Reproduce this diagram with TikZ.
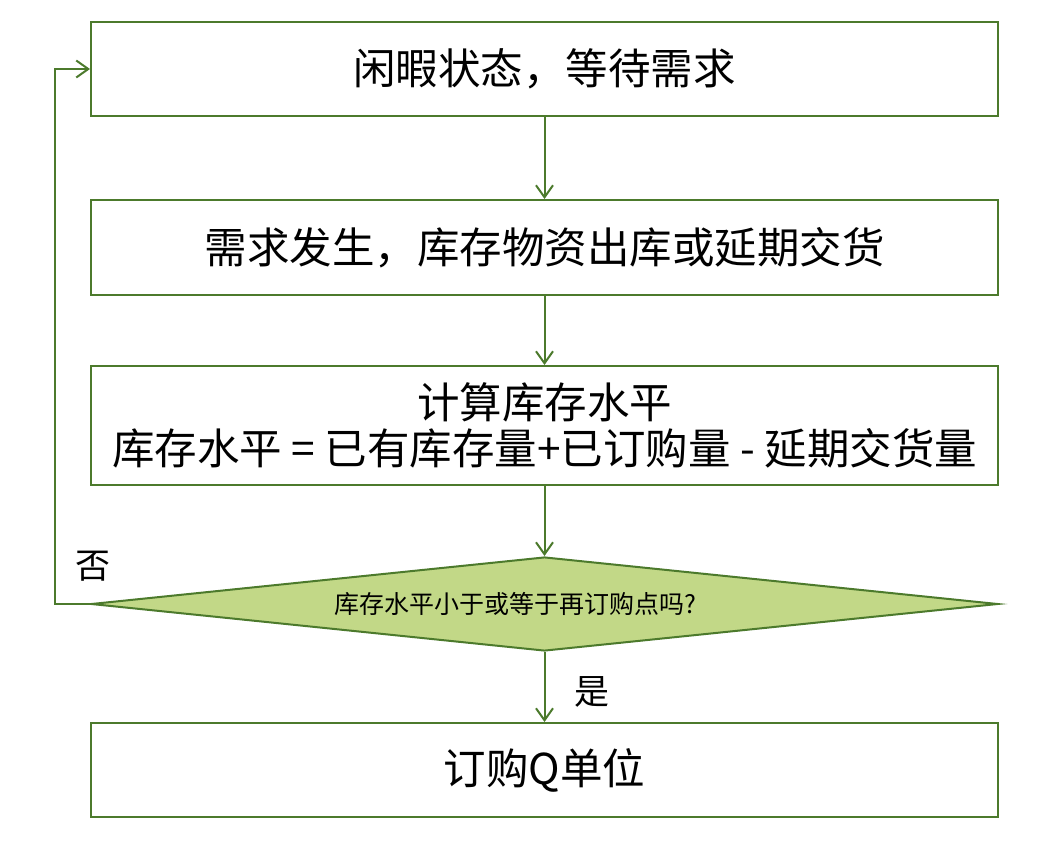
\documentclass[tikz,border=0pt]{standalone}
\usepackage{fontspec}
\setmainfont{Noto Sans CJK SC}
\usetikzlibrary{shapes.geometric,arrows.meta}
\definecolor{bordergreen}{RGB}{76,122,44}
\definecolor{fillgreen}{RGB}{194,216,135}
\begin{document}
\begin{tikzpicture}[x=1pt,y=-1pt,
  stepbox/.style={draw=bordergreen,line width=2pt,fill=white,minimum width=907pt,inner sep=0pt,align=center,font=\fontsize{42.5}{48}\selectfont},
  conn/.style={draw=bordergreen,line width=2pt,-{Straight Barb[length=12pt,width=17pt,line width=2pt]}},
  lbl/.style={font=\fontsize{35}{40}\selectfont,inner sep=0pt}]
\useasboundingbox (0,0) rectangle (1046,846);
\node[stepbox,minimum height=94pt] (idle) at (544.5,69) {闲暇状态，等待需求};
\node[stepbox,minimum height=95pt] (demand) at (544.5,247.5) {需求发生，库存物资出库或延期交货};
\node[stepbox,minimum height=119pt] (calc) at (544.5,425.5) {计算库存水平\\[-2pt]库存水平 = 已有库存量+已订购量 - 延期交货量};
\node[diamond,draw=bordergreen,line width=2pt,fill=fillgreen,shape aspect=9.65,minimum width=907pt,minimum height=94pt,inner sep=0pt] (check) at (544.5,604) {};
\node[inner sep=0pt,font=\fontsize{25}{30}\selectfont] (qtext) at (515,604) {库存水平小于或等于再订购点吗?};
\node[stepbox,minimum height=94pt] (order) at (544.5,770) {订购Q单位};
\coordinate (c1) at (55,604);
\coordinate (c2) at (55,69);
\draw[conn] (idle) -- (demand);
\draw[conn] (demand) -- (calc);
\draw[conn] (calc) -- (check);
\draw[conn] (check) -- (order);
\draw[conn] (check.west) -- (c1) -- (c2) -- (idle.west);
\node[lbl] (no) at (93,566) {否};
\node[lbl] (yes) at (592,692) {是};
\end{tikzpicture}
\end{document}
